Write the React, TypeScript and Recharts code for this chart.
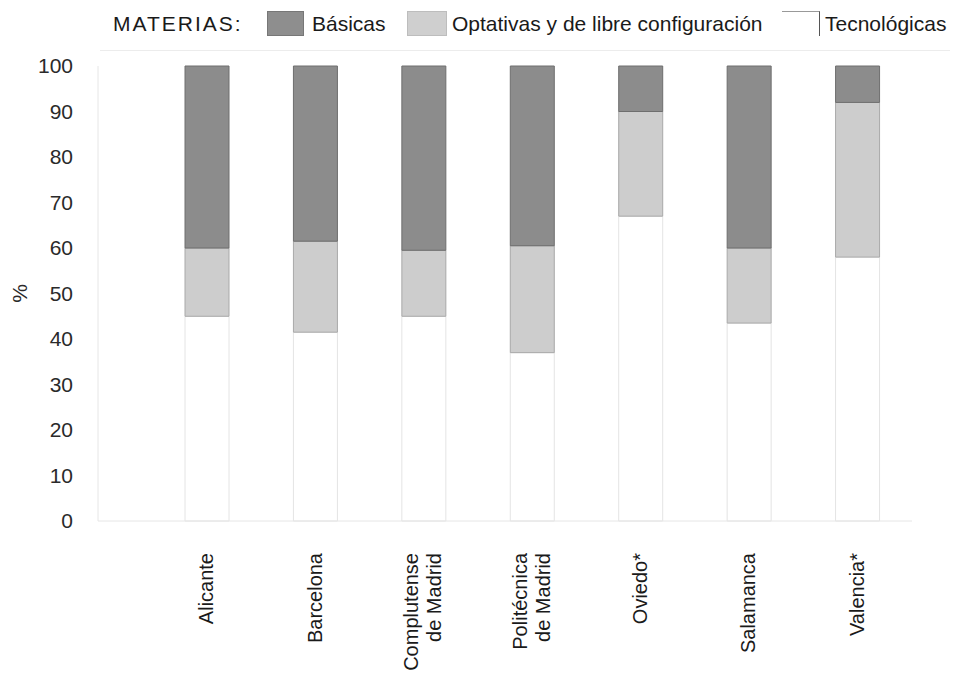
import { BarChart, Bar, XAxis, YAxis } from 'recharts';

const categories = [
  'Alicante',
  'Barcelona',
  'Complutense\nde Madrid',
  'Politécnica\nde Madrid',
  'Oviedo*',
  'Salamanca',
  'Valencia*',
];
const tecnologicas = [45, 41.5, 45, 37, 67, 43.5, 58];
const optativas = [15, 20, 14.5, 23.5, 23, 16.5, 34];
const basicas = [40, 38.5, 40.5, 39.5, 10, 40, 8];
const yTicks = [0, 10, 20, 30, 40, 50, 60, 70, 80, 90, 100];

const data = categories.map((name, i) => ({
  name,
  tecnologicas: tecnologicas[i],
  optativas: optativas[i],
  basicas: basicas[i],
}));

const FONT = '"Liberation Sans", Arial, sans-serif';

function XTick({ x, y, payload }: any) {
  const lines = String(payload.value).split('\n');
  return (
    <g transform={`translate(${x},${y + 24}) rotate(-90)`}>
      <text textAnchor="end" fontSize={20} fill="#1a1a1a" fontFamily={FONT}>
        {lines.map((line, i) => (
          <tspan key={i} x={0} y={lines.length === 1 ? 6 : i === 0 ? -6 : 17}>
            {line}
          </tspan>
        ))}
      </text>
    </g>
  );
}

function YTick({ x, y, payload }: any) {
  return (
    <text x={x - 17} y={y} dy={7} textAnchor="end" fontSize={21} fill="#2a2a2a" fontFamily={FONT}>
      {payload.value}
    </text>
  );
}

function PercentLabel({ viewBox }: any) {
  const cy = viewBox.y + viewBox.height / 2;
  return (
    <text
      transform={`translate(${viewBox.x + 27},${cy}) rotate(-90)`}
      textAnchor="middle"
      fontSize={21}
      fill="#2a2a2a"
      fontFamily={FONT}
    >
      %
    </text>
  );
}

const swatch = (left: number, width: number, bg: string, border: string) => (
  <div
    style={{
      position: 'absolute',
      left,
      top: 11,
      width,
      height: 25,
      background: bg,
      border: `1px solid ${border}`,
      boxSizing: 'border-box',
    }}
  />
);

const label = (left: number, text: string, extra: object = {}) => (
  <span
    style={{
      position: 'absolute',
      left,
      top: 11,
      fontSize: 21,
      lineHeight: '25px',
      color: '#1a1a1a',
      whiteSpace: 'nowrap',
      ...extra,
    }}
  >
    {text}
  </span>
);

export default function App() {
  return (
    <div style={{ position: 'absolute', left: 0, top: 0, width: 961, height: 673, background: '#fff', fontFamily: FONT }}>
      <div style={{ position: 'absolute', left: 100, top: 0, width: 850, height: 50, borderBottom: '1px solid #ececec' }} />
      {label(113, 'MATERIAS:', { letterSpacing: 2 })}
      {swatch(267, 37, '#8e8e8e', '#777')}
      {label(312, 'Básicas')}
      {swatch(407, 40, '#cfcfcf', '#bdbdbd')}
      {label(452, 'Optativas y de libre configuración')}
      <div
        style={{
          position: 'absolute',
          left: 782,
          top: 11,
          width: 38,
          height: 25,
          background: '#fff',
          borderTop: '1px solid #999',
          borderRight: '1.5px solid #555',
          boxSizing: 'border-box',
        }}
      />
      {label(825, 'Tecnológicas')}

      <div style={{ position: 'absolute', left: 0, top: 0 }}>
        <BarChart
          width={961}
          height={673}
          data={data}
          margin={{ top: 66, right: 49, bottom: 0, left: 0 }}
          barSize={44}
        >
          <XAxis
            dataKey="name"
            interval={0}
            height={152}
            padding={{ left: 55, right: 0 }}
            axisLine={{ stroke: '#e6e6e6' }}
            tickLine={false}
            tick={<XTick />}
          />
          <YAxis
            width={98}
            domain={[0, 100]}
            ticks={yTicks}
            interval={0}
            axisLine={{ stroke: '#e6e6e6' }}
            tickLine={false}
            tick={<YTick />}
            label={<PercentLabel />}
          />
          <Bar dataKey="tecnologicas" stackId="a" fill="#ffffff" stroke="#e4e4e4" strokeWidth={1} isAnimationActive={false} />
          <Bar dataKey="optativas" stackId="a" fill="#cdcdcd" stroke="#a9a9a9" strokeWidth={1} isAnimationActive={false} />
          <Bar dataKey="basicas" stackId="a" fill="#8c8c8c" stroke="#6e6e6e" strokeWidth={1} isAnimationActive={false} />
        </BarChart>
      </div>
    </div>
  );
}
